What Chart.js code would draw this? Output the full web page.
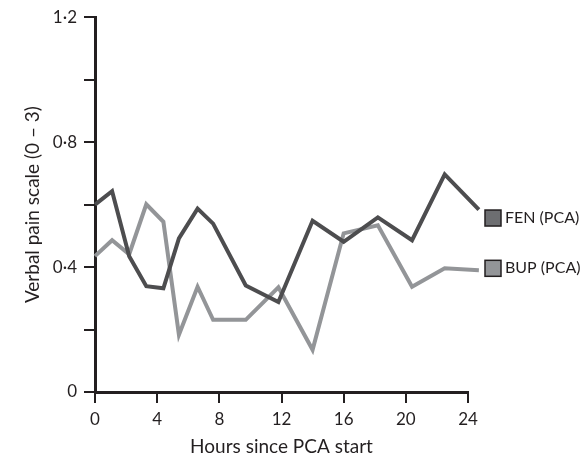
<!DOCTYPE html>
<html>
<head>
<meta charset="utf-8">
<script src="https://cdn.jsdelivr.net/npm/chart.js@4.4.1/dist/chart.umd.min.js"></script>
<style>
  html, body { margin: 0; padding: 0; background: #fff; }
  #painChart { display: block; }
</style>
</head>
<body>
<canvas id="painChart" width="584" height="456"></canvas>
<script>
// hours since PCA start (shared by both series)
const hours = [0, 1.1, 2.2, 3.3, 4.4, 5.4, 6.6, 7.6, 9.7, 11.8, 14.0, 16.0, 18.2, 20.4, 22.5, 24.7];
const fenValues = [0.60, 0.643, 0.435, 0.339, 0.332, 0.492, 0.587, 0.539, 0.341, 0.288, 0.548, 0.481, 0.559, 0.486, 0.697, 0.584];
const bupValues = [0.435, 0.486, 0.441, 0.601, 0.545, 0.183, 0.337, 0.231, 0.231, 0.335, 0.135, 0.508, 0.534, 0.337, 0.396, 0.390];
const seriesNames = ["FEN (PCA)", "BUP (PCA)"];
const xTicks = [0, 4, 8, 12, 16, 20, 24];
const yLabelled = [0, 0.4, 0.8, 1.2];

const axisColor = "#231f20";
const fenColor = "#4d4d4f";
const bupColor = "#939598";

function toPoints(values) {
  return values.map(function (v, i) { return { x: hours[i], y: v }; });
}

function formatY(v) {
  if (v === 0) return "0";
  return v.toFixed(1).replace(".", "\u00b7");
}

// legend boxes sitting to the right of the line ends
const sideLegend = {
  id: "sideLegend",
  afterDatasetsDraw: function (chart, args, opts) {
    const ctx = chart.ctx;
    const area = chart.chartArea;
    const yScale = chart.scales.y;
    ctx.save();
    opts.items.forEach(function (item) {
      const cy = yScale.getPixelForValue(item.at);
      const x = area.right + 17;
      ctx.fillStyle = item.fill;
      ctx.fillRect(x, cy - 8, 16, 16);
      ctx.strokeStyle = axisColor;
      ctx.lineWidth = 1.5;
      ctx.strokeRect(x, cy - 8, 16, 16);
      ctx.fillStyle = axisColor;
      ctx.font = "16px Lato";
      ctx.textBaseline = "middle";
      ctx.textAlign = "left";
      ctx.fillText(item.text, x + 20, cy);
    });
    ctx.restore();
  }
};

const ctx = document.getElementById("painChart").getContext("2d");
const painChart = new Chart(ctx, {
  type: "line",
  data: {
    datasets: [
      {
        label: seriesNames[0],
        data: toPoints(fenValues),
        borderColor: fenColor,
        borderWidth: 4,
        pointRadius: 0,
        tension: 0,
        borderJoinStyle: "miter",
        clip: false,
      },
      {
        label: seriesNames[1],
        data: toPoints(bupValues),
        borderColor: bupColor,
        borderWidth: 4,
        pointRadius: 0,
        tension: 0,
        borderJoinStyle: "miter",
        clip: false,
      },
    ],
  },
  options: {
    responsive: false,
    animation: false,
    layout: { padding: { left: 17, top: 16, right: 116, bottom: 0 } },
    plugins: {
      legend: { display: false },
      tooltip: { enabled: false },
      sideLegend: {
        items: [
          { text: seriesNames[0], fill: "#6d6e71", at: 0.557 },
          { text: seriesNames[1], fill: bupColor, at: 0.396 },
        ],
      },
    },
    scales: {
      x: {
        type: "linear",
        min: 0,
        max: 24,
        afterBuildTicks: function (scale) {
          scale.ticks = xTicks.map(function (v) { return { value: v }; });
        },
        afterFit: function (scale) { scale.height = 64; },
        grid: {
          drawOnChartArea: false,
          drawTicks: true,
          tickLength: 11,
          color: axisColor,
          lineWidth: 2,
        },
        border: { display: true, color: axisColor, width: 3 },
        ticks: {
          color: axisColor,
          font: { family: "Lato", size: 17 },
          padding: 6,
          maxRotation: 0,
        },
        title: {
          display: true,
          text: "Hours since PCA start",
          color: axisColor,
          padding: 0,
          font: { family: "Lato", size: 19, lineHeight: 1.0 },
        },
      },
      y: {
        min: 0,
        max: 1.2,
        ticks: {
          stepSize: 0.2,
          color: axisColor,
          font: { family: "Lato", size: 17 },
          padding: 7,
          callback: function (v) {
            const hit = yLabelled.find(function (t) { return Math.abs(t - v) < 1e-6; });
            return hit === undefined ? "" : formatY(hit);
          },
        },
        afterFit: function (scale) { scale.width = 78; },
        grid: {
          drawOnChartArea: false,
          drawTicks: true,
          tickLength: 11,
          color: axisColor,
          lineWidth: 2,
        },
        border: { display: true, color: axisColor, width: 3 },
        title: {
          display: true,
          text: "Verbal pain scale (0 \u2013 3)",
          color: axisColor,
          font: { family: "Lato", size: 19 },
        },
      },
    },
  },
  plugins: [sideLegend],
});
</script>
</body>
</html>
